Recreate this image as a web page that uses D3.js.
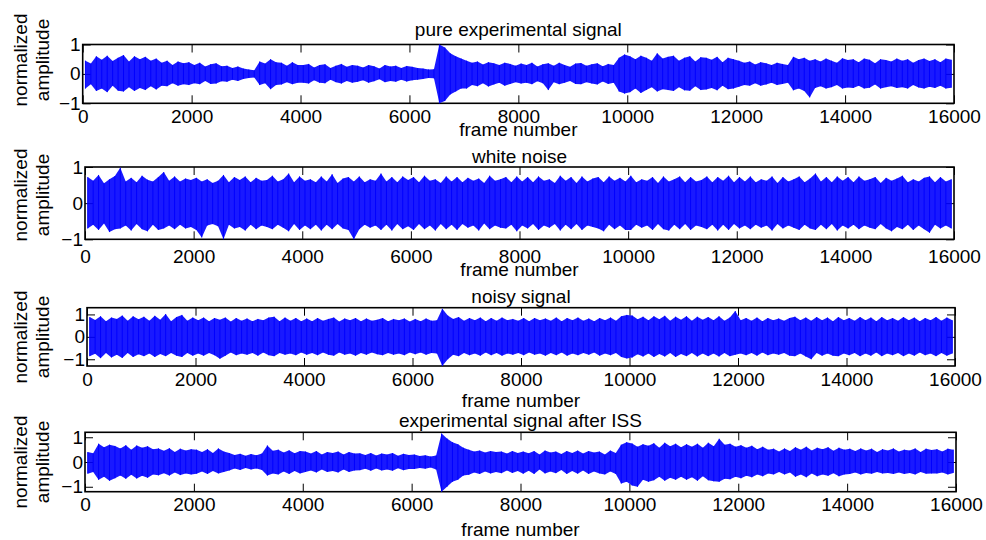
<!DOCTYPE html>
<html><head><meta charset="utf-8">
<script src="https://cdn.jsdelivr.net/npm/d3@7"></script>
<style>
body{margin:0;background:#fff}
svg text{font-family:"Liberation Sans",Arial,Helvetica,sans-serif;font-size:19px;fill:#000}
</style>
</head><body>
<svg id="chart" width="986" height="540"></svg>
<script>
// ---- data ----
const frameTicks = [0,2000,4000,6000,8000,10000,12000,14000,16000];
const ampTicks = [-1,0,1];
const frameMax = 16000;
const titles = ["pure experimental signal","white noise","noisy signal","experimental signal after ISS"];
const xLabel = "frame number";
const yLabel = ["normalized","amplitude"];
const yLimits = [1,1,1.3,1.2];

// per 100-frame bin: upper and lower extent of the waveform
const pureHi = [
.45,.35,.6,.48,.62,.44,.55,.64,.42,.6,.5,.58,.45,.52,.38,.45,.3,.42,.36,.4,
.3,.38,.25,.33,.36,.26,.28,.2,.25,.18,.15,.12,.42,.35,.5,.4,.38,.28,.4,.3,
.3,.34,.22,.3,.33,.2,.28,.34,.24,.3,.28,.22,.3,.26,.18,.3,.25,.28,.2,.27,
.24,.2,.18,.15,.16,1.0,.9,.7,.6,.52,.45,.38,.42,.32,.4,.36,.3,.38,.34,.28,
.35,.3,.38,.25,.33,.36,.28,.38,.3,.24,.35,.37,.28,.33,.36,.26,.34,.3,.55,.66,
.6,.5,.62,.55,.45,.7,.52,.58,.62,.45,.55,.6,.42,.57,.55,.48,.58,.4,.55,.5,
.45,.38,.42,.32,.4,.36,.3,.38,.34,.3,.58,.5,.55,.45,.5,.42,.52,.45,.38,.53,
.47,.5,.4,.52,.48,.36,.5,.47,.42,.52,.45,.5,.38,.47,.52,.44,.5,.4,.52,.48];
const pureLo = [
-.5,-.35,-.58,-.5,-.62,-.4,-.57,-.6,-.45,-.58,-.48,-.55,-.42,-.53,-.4,-.42,-.32,-.4,-.35,-.38,
-.32,-.35,-.24,-.34,-.33,-.25,-.27,-.2,-.24,-.17,-.14,-.12,-.38,-.32,-.52,-.38,-.36,-.28,-.35,-.3,
-.3,-.33,-.22,-.3,-.32,-.2,-.28,-.33,-.24,-.3,-.27,-.22,-.3,-.25,-.18,-.28,-.24,-.27,-.2,-.26,
-.22,-.2,-.17,-.14,-.15,-1.0,-.92,-.7,-.6,-.5,-.5,-.38,-.42,-.32,-.43,-.36,-.3,-.4,-.34,-.28,
-.33,-.3,-.35,-.25,-.32,-.55,-.28,-.35,-.3,-.24,-.34,-.35,-.28,-.33,-.36,-.26,-.34,-.3,-.6,-.67,
-.62,-.5,-.65,-.55,-.45,-.6,-.52,-.55,-.58,-.45,-.56,-.57,-.42,-.55,-.53,-.48,-.56,-.4,-.52,-.5,
-.44,-.38,-.4,-.32,-.4,-.36,-.3,-.38,-.34,-.3,-.56,-.5,-.58,-.8,-.48,-.42,-.5,-.45,-.38,-.5,
-.46,-.48,-.4,-.5,-.47,-.36,-.5,-.45,-.42,-.48,-.45,-.5,-.38,-.46,-.5,-.44,-.48,-.4,-.5,-.47];

const noiseHi = [
.72,.62,.78,.55,.66,.75,.98,.6,.7,.58,.76,.65,.6,.72,.86,.62,.74,.6,.68,.64,
.7,.6,.66,.56,.62,.78,.58,.72,.64,.74,.58,.7,.62,.64,.76,.6,.66,.82,.58,.74,
.62,.66,.58,.74,.6,.8,.56,.68,.72,.6,.74,.58,.66,.62,.82,.6,.72,.58,.74,.64,
.72,.58,.76,.62,.66,.56,.74,.6,.72,.58,.7,.62,.68,.56,.76,.62,.66,.72,.58,.74,
.6,.72,.58,.74,.62,.66,.56,.76,.62,.72,.56,.74,.6,.68,.72,.58,.74,.62,.7,.6,
.76,.58,.66,.62,.72,.56,.74,.6,.66,.74,.58,.72,.6,.64,.74,.58,.72,.62,.76,.58,
.72,.6,.74,.58,.66,.62,.74,.56,.72,.6,.66,.74,.58,.68,.82,.6,.72,.58,.74,.62,
.72,.58,.74,.62,.66,.72,.56,.7,.62,.68,.76,.58,.66,.6,.7,.74,.58,.72,.6,.66];
const noiseLo = [
-.7,-.6,-.74,-.56,-.8,-.72,-.7,-.62,-.76,-.58,-.72,-.78,-.6,-.74,-.7,-.62,-.72,-.6,-.7,-.66,
-.74,-.95,-.62,-.58,-.64,-1.0,-.6,-.7,-.66,-.76,-.6,-.72,-.62,-.66,-.72,-.6,-.68,-.78,-.58,-.74,
-.62,-.72,-.6,-.76,-.6,-.72,-.58,-.7,-.74,-1.0,-.72,-.6,-.68,-.62,-.74,-.6,-.76,-.58,-.72,-.64,
-.74,-.58,-.72,-.62,-.76,-.58,-.72,-.6,-.74,-.58,-.68,-.62,-.76,-.56,-.72,-.62,-.68,-.7,-.6,-.78,
-.62,-.7,-.58,-.74,-.62,-.68,-.58,-.76,-.6,-.72,-.58,-.74,-.62,-.66,-.7,-.78,-.6,-.72,-.62,-.74,
-.74,-.6,-.68,-.62,-.74,-.58,-.72,-.76,-.6,-.72,-.58,-.74,-.62,-.66,-.72,-.6,-.76,-.6,-.74,-.58,
-.7,-.62,-.72,-.6,-.68,-.62,-.76,-.58,-.7,-.62,-.68,-.74,-.6,-.7,-.74,-.6,-.72,-.58,-.76,-.62,
-.7,-.6,-.72,-.62,-.68,-.72,-.58,-.7,-.78,-.66,-.72,-.6,-.74,-.62,-.72,-.82,-.6,-.7,-.62,-.7];

const noisyHi = [
.88,.75,.92,.7,.86,.8,.95,.72,.92,.78,.9,.72,.94,.76,1.02,.7,.88,.98,.72,.86,
.74,.86,.7,.84,.76,.86,.68,.84,.72,.82,.7,.8,.74,.86,.9,.7,.86,.72,.84,.7,
.82,.7,.84,.72,.8,.86,.68,.82,.74,.84,.7,.82,.72,.76,.84,.7,.8,.74,.82,.68,
.8,.7,.82,.72,.74,1.25,.95,.8,.88,.72,.84,.74,.86,.7,.84,.72,.86,.74,.8,.72,
.84,.7,.84,.74,.82,.72,.86,.7,.84,.74,.86,.72,.82,.7,.84,.74,.86,.72,.92,.98,
.95,.78,.9,.74,.92,.78,.94,.72,.9,.76,.92,.72,.9,.76,.88,.74,.92,.72,.86,1.15,
.74,.84,.72,.86,.7,.84,.74,.82,.72,.84,.9,.74,.86,.72,.88,.74,.86,.7,.88,.74,
.84,.72,.88,.74,.86,.7,.88,.74,.84,.72,.88,.74,.86,.7,.84,.74,.88,.72,.86,.74];
const noisyLo = [
-.86,-.75,-.95,-.72,-.92,-.8,-.94,-.72,-.9,-.78,-.86,-.74,-.9,-.76,-.86,-.72,-.84,-.9,-.72,-.84,
-.74,-.84,-.72,-.82,-.98,-.84,-.7,-.82,-.74,-.8,-.72,-.84,-.7,-.82,-.86,-.72,-.8,-.74,-.82,-.7,
-.8,-.72,-.82,-.7,-.8,-.84,-.7,-.8,-.74,-.84,-.72,-.8,-.7,-.78,-.82,-.72,-.8,-.74,-.82,-.7,
-.78,-.7,-.8,-.72,-.74,-1.3,-1.0,-.8,-.86,-.72,-.82,-.74,-.84,-.7,-.82,-.72,-.84,-.74,-.8,-.72,
-.82,-.7,-.8,-.74,-.84,-.72,-.82,-.7,-.84,-.74,-.82,-.72,-.8,-.7,-.84,-.74,-.82,-.72,-.9,-.96,
-.92,-.78,-.88,-.74,-.9,-.76,-.88,-.72,-.9,-.76,-.86,-.72,-.88,-.74,-.86,-.74,-.88,-.72,-.86,-.8,
-.74,-.82,-.72,-.84,-.7,-.82,-.74,-.8,-.72,-.84,-.86,-.74,-.88,-1.0,-.72,-.84,-.74,-.84,-.86,-.74,
-.82,-.72,-.86,-.74,-.84,-.7,-.86,-.74,-.82,-.72,-.86,-.74,-.84,-.7,-.82,-.74,-.86,-.72,-.84,-.74];

const issHi = [
.4,.35,.74,.6,.7,.65,.55,.68,.5,.67,.58,.64,.52,.55,.45,.56,.4,.54,.46,.52,
.5,.4,.52,.36,.55,.42,.36,.28,.33,.25,.32,.27,.34,.67,.45,.5,.38,.47,.35,.44,
.42,.34,.44,.3,.4,.36,.42,.3,.4,.34,.35,.28,.36,.26,.34,.3,.36,.25,.33,.28,
.3,.24,.27,.22,.26,1.15,.95,.8,.72,.58,.5,.42,.46,.38,.44,.4,.42,.34,.44,.36,
.42,.35,.44,.3,.46,.38,.42,.32,.44,.36,.46,.34,.44,.38,.42,.3,.46,.36,.7,.8,
.75,.62,.72,.66,.76,.58,.78,.64,.74,.6,.72,.62,.74,.58,.78,.64,.94,.7,.74,.62,
.68,.58,.66,.52,.62,.5,.54,.42,.55,.44,.6,.5,.62,.46,.58,.52,.6,.45,.58,.5,
.54,.44,.55,.46,.54,.4,.52,.46,.55,.42,.5,.46,.55,.4,.54,.48,.52,.42,.54,.5];
const issLo = [
-.47,-.4,-.72,-.6,-.76,-.66,-.55,-.68,-.52,-.67,-.56,-.64,-.5,-.54,-.45,-.55,-.42,-.53,-.46,-.5,
-.47,-.38,-.48,-.36,-.46,-.4,-.34,-.26,-.32,-.24,-.3,-.26,-.32,-.55,-.46,-.5,-.38,-.48,-.36,-.46,
-.4,-.34,-.42,-.3,-.4,-.36,-.42,-.3,-.4,-.34,-.33,-.27,-.35,-.26,-.34,-.3,-.35,-.25,-.33,-.28,
-.28,-.24,-.27,-.22,-.3,-1.2,-1.0,-.8,-.72,-.55,-.52,-.42,-.48,-.38,-.46,-.4,-.45,-.34,-.44,-.36,
-.47,-.35,-.48,-.3,-.46,-.38,-.45,-.32,-.48,-.36,-.47,-.34,-.48,-.38,-.46,-.5,-.38,-.48,-.87,-.8,
-.95,-1.0,-.72,-.8,-.74,-.6,-.76,-.64,-.72,-.6,-.72,-.62,-.76,-.58,-.74,-.78,-.8,-.68,-.7,-.6,
-.66,-.56,-.62,-.5,-.58,-.46,-.5,-.4,-.5,-.42,-.6,-.5,-.62,-.46,-.58,-.5,-.56,-.45,-.58,-.5,
-.48,-.42,-.5,-.44,-.47,-.4,-.46,-.44,-.48,-.42,-.48,-.44,-.5,-.4,-.47,-.46,-.46,-.42,-.5,-.44];

const seriesHi = [pureHi, noiseHi, noisyHi, issHi];
const seriesLo = [pureLo, noiseLo, noisyLo, issLo];

// ---- layout (pixels) ----
const layout = [
  {x0:82.7, x1:954, y0:44.5, y1:103.3, titleY:36,  pad:6.5,  xlabY:135.5, ylabC:60},
  {x0:85,   x1:954, y0:167,  y1:239.3, titleY:163, pad:10.5, xlabY:275.5, ylabC:195},
  {x0:87,   x1:955, y0:307.7,y1:366,   titleY:303, pad:6.5,  xlabY:407,   ylabC:337},
  {x0:85,   x1:956, y0:432.3,y1:491.7, titleY:427, pad:5.8,  xlabY:535.5, ylabC:462}
];

const svg = d3.select("#chart");
const TICK = 8;

layout.forEach((L, k) => {
  const x = d3.scaleLinear().domain([0, frameMax]).range([L.x0, L.x1]);
  const y = d3.scaleLinear().domain([-yLimits[k], yLimits[k]]).range([L.y1, L.y0]);
  const g = svg.append("g");

  const strip = sel => { sel.select(".domain").remove(); sel.selectAll("line").attr("stroke","#000").attr("stroke-width",1); };

  g.append("g").attr("transform", `translate(0,${L.y1})`)
    .call(d3.axisBottom(x).tickValues(frameTicks).tickSize(-TICK).tickPadding(L.pad).tickFormat(d3.format("d")))
    .call(strip);
  g.append("g").attr("transform", `translate(0,${L.y0})`)
    .call(d3.axisTop(x).tickValues(frameTicks).tickSize(-TICK).tickFormat(""))
    .call(strip);
  g.append("g").attr("transform", `translate(${L.x0},0)`)
    .call(d3.axisLeft(y).tickValues(ampTicks).tickSize(-TICK).tickPadding(2).tickFormat(d3.format("d")))
    .call(strip);
  g.append("g").attr("transform", `translate(${L.x1},0)`)
    .call(d3.axisRight(y).tickValues(ampTicks).tickSize(-TICK).tickFormat(""))
    .call(strip);
  g.selectAll("text").attr("fill", "#000");

  g.append("rect").attr("x", L.x0).attr("y", L.y0)
    .attr("width", L.x1 - L.x0).attr("height", L.y1 - L.y0)
    .attr("fill", "none").attr("stroke", "#000").attr("stroke-width", 1.6);

  // waveform drawn as its per-bin min/max extent
  const hi = seriesHi[k], lo = seriesLo[k];
  const bin = frameMax / hi.length;
  const band = hi.map((v, i) => ({f: i * bin + bin / 2, hi: v, lo: lo[i]}));
  const area = d3.area().x(d => x(d.f)).y0(d => y(d.lo)).y1(d => y(d.hi));
  g.append("path").datum(band).attr("d", area)
    .attr("fill", "#0000ff").attr("fill-opacity", 0.9).attr("stroke", "none");

  g.append("g").selectAll("line").data(band).join("line")
    .attr("x1", d => x(d.f)).attr("x2", d => x(d.f))
    .attr("y1", d => y(d.hi)).attr("y2", d => y(d.lo))
    .attr("stroke", "#0000ff").attr("stroke-width", 1);

  const cx = (L.x0 + L.x1) / 2;
  g.append("text").attr("x", cx).attr("y", L.titleY).attr("text-anchor", "middle").text(titles[k]);
  g.append("text").attr("x", cx).attr("y", L.xlabY).attr("text-anchor", "middle").text(xLabel);
  g.append("text").attr("transform", `translate(27,${L.ylabC}) rotate(-90)`).attr("text-anchor", "middle").text(yLabel[0]);
  g.append("text").attr("transform", `translate(49,${L.ylabC}) rotate(-90)`).attr("text-anchor", "middle").text(yLabel[1]);
});
</script>
</body></html>
